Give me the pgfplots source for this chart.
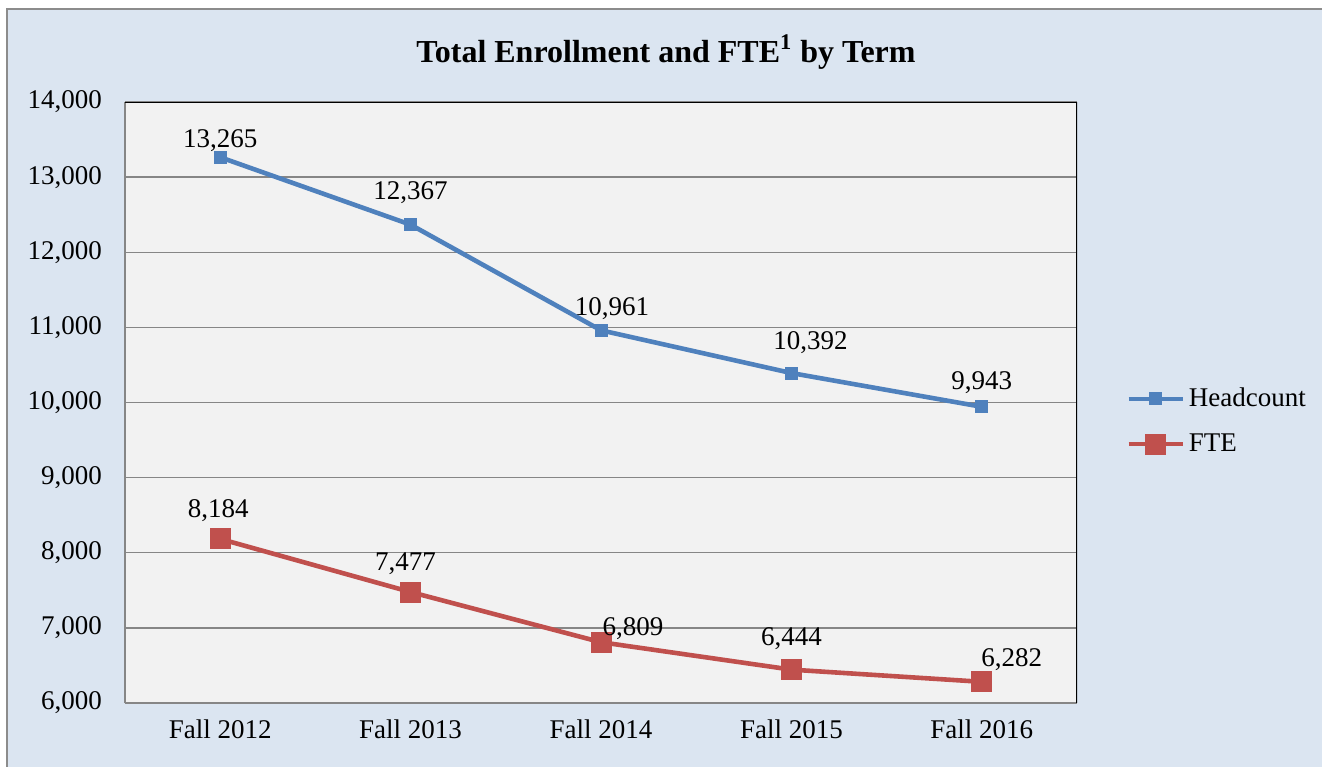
\documentclass[border=0pt]{standalone}
\usepackage{fontspec}
\setmainfont{Liberation Serif}
\usepackage{pgfplots}
\pgfplotsset{compat=1.18}

\definecolor{chartbg}{RGB}{219,229,241}
\definecolor{plotbg}{RGB}{242,242,242}
\definecolor{gridgray}{RGB}{134,134,134}
\definecolor{hcblue}{RGB}{79,129,189}
\definecolor{ftered}{RGB}{192,80,77}

% x y dx dy  (dx, dy = label offsets in pt)
\pgfplotstableread{
x y dx dy
0 13265 0 -0.5
1 12367 0 7
2 10961 5.5 2
3 10392 9.5 6.5
4 9943 0 3
}\headcount
\pgfplotstableread{
x y dx dy
0 8184 -1 5.5
1 7477 -2.5 5.5
2 6809 16 -2
3 6444 0 6.5
4 6282 15 2
}\fte

\begin{document}
\begin{tikzpicture}
\clip (0,0) rectangle (661pt,383pt);
\fill[white] (0,0) rectangle (661pt,383pt);
\filldraw[fill=chartbg, draw=gray!90, line width=0.8pt] (3.5pt,-5pt) rectangle (670pt,378.5pt);
\node[font=\bfseries\fontsize{16}{19}\selectfont] at (333pt,357pt)
  {Total Enrollment and FTE\textsuperscript{1} by Term};
\begin{axis}[
    at={(62.5pt,31.5pt)}, anchor=south west,
    width=476pt, height=300.5pt, scale only axis,
    xmin=-0.5, xmax=4.5,
    ymin=6000, ymax=14000,
    xtick={0,1,2,3,4},
    xticklabels={Fall 2012, Fall 2013, Fall 2014, Fall 2015, Fall 2016},
    ytick={6000,7000,...,14000},
    scaled y ticks=false,
    /pgf/number format/1000 sep={,},
    /pgf/number format/assume math mode=true,
    major tick length=0pt,
    ymajorgrids=true,
    grid style={draw=gridgray, line width=0.7pt},
    axis background/.style={fill=plotbg},
    axis line style={draw=gridgray, line width=0.9pt},
    axis x line*=bottom, axis y line*=left,
    tick label style={font=\fontsize{13.5}{16}\selectfont},
    xticklabel style={yshift=-5pt},
    yticklabel style={xshift=-8pt},
    legend style={at={(1.045,0.469)}, anchor=west, draw=none, fill=none,
      font=\fontsize{13.5}{16}\selectfont, row sep=8pt,
      /tikz/every even column/.append style={column sep=2pt}},
    legend image code/.code={%
      \draw[#1, mark repeat=2, mark phase=2] plot coordinates {(0pt,0pt) (13.5pt,0pt) (27pt,0pt)};},
    legend cell align=left,
    lbl/.style={
      nodes near coords={\pgfmathprintnumber[assume math mode=true]{\pgfplotspointmeta}},
      visualization depends on={\thisrow{dx}\as\dx},
      visualization depends on={\thisrow{dy}\as\dy},
      every node near coord/.append style={font=\fontsize{13.5}{16}\selectfont,
        anchor=south, text=black, xshift=\dx*1pt, yshift=\dy*1pt}},
]
\addplot[color=hcblue, line width=2.3pt, mark=square*, mark size=3pt,
  mark options={fill=hcblue, draw=hcblue, line width=0pt}, lbl]
  table[x=x, y=y] {\headcount};
\addlegendentry{Headcount}
\addplot[color=ftered, line width=2.3pt, mark=square*, mark size=5pt,
  mark options={fill=ftered, draw=ftered, line width=0pt}, lbl]
  table[x=x, y=y] {\fte};
\addlegendentry{FTE}
\draw[black, line width=0.9pt] (rel axis cs:0,1) -- (rel axis cs:1,1) -- (rel axis cs:1,0);
\end{axis}
\end{tikzpicture}
\end{document}
